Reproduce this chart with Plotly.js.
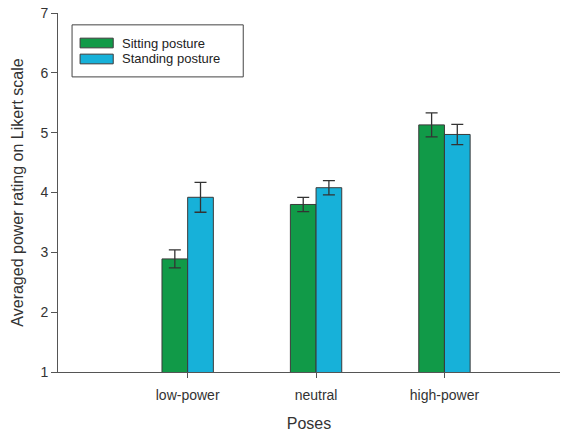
<!DOCTYPE html>
<html><head><meta charset="utf-8">
<script src="https://cdn.plot.ly/plotly-3.0.1.min.js"></script>
<style>html,body{margin:0;padding:0;background:#fff}#chart{width:568px;height:435px}</style>
</head><body><div id="chart"></div>
<script>
const poses = ["low-power", "neutral", "high-power"];
const seriesNames = ["Sitting posture", "Standing posture"];
const sitting = [2.89, 3.80, 5.13];
const sittingErr = [0.15, 0.12, 0.20];
const standing = [3.92, 4.08, 4.97];
const standingErr = [0.25, 0.12, 0.17];
const yTicks = [1, 2, 3, 4, 5, 6, 7];

const colors = ["#119a48", "#17b1d9"];
const font = "Liberation Sans, Arial, sans-serif";

const mk = (name, y, e, c) => ({
  type: "bar", name: name, x: poses, y: y, base: 0,
  marker: {color: c, line: {color: "#3a3a3a", width: 1}},
  error_y: {type: "data", array: e, visible: true, color: "#333", thickness: 1.3, width: 6},
  hoverinfo: "none"
});

const data = [mk(seriesNames[0], sitting, sittingErr, colors[0]),
              mk(seriesNames[1], standing, standingErr, colors[1])];

const shapes = [
  {type: "rect", xref: "paper", yref: "paper", x0: 0.028, x1: 0.369, y0: 0.822, y1: 0.967,
   line: {color: "#444", width: 1}, fillcolor: "rgba(0,0,0,0)"}
];
const annotations = [];
seriesNames.forEach((n, i) => {
  const yc = 0.9164 - i * 0.0445;
  shapes.push({type: "rect", xref: "paper", yref: "paper", x0: 0.044, x1: 0.110,
    y0: yc - 0.0135, y1: yc + 0.0135, fillcolor: colors[i], line: {color: "#3a3a3a", width: 1}});
  annotations.push({xref: "paper", yref: "paper", x: 0.125, y: yc, xanchor: "left", yanchor: "middle",
    text: n, showarrow: false, borderpad: 0, font: {family: font, size: 13, color: "#222"}});
});

const layout = {
  width: 568, height: 435,
  margin: {l: 58, r: 8, t: 13, b: 63},
  paper_bgcolor: "#fff", plot_bgcolor: "#fff",
  showlegend: false,
  barmode: "group", bargap: 0.6, bargroupgap: 0,
  font: {family: font, color: "#333"},
  xaxis: {
    range: [-1.01, 2.9], showline: true, linecolor: "#555", linewidth: 1,
    ticks: "outside", ticklen: 5, tickcolor: "#555", showgrid: false, zeroline: false,
    ticklabelstandoff: 5,
    tickfont: {family: font, size: 14, color: "#333"},
    title: {text: "Poses", font: {family: font, size: 16, color: "#333"}, standoff: 16}
  },
  yaxis: {
    range: [1, 7], tickvals: yTicks, showline: true, linecolor: "#555", linewidth: 1,
    ticks: "outside", ticklen: 6, tickcolor: "#555", showgrid: false, zeroline: false,
    tickfont: {family: font, size: 14, color: "#333"},
    title: {text: "Averaged power rating on Likert scale", font: {family: font, size: 16, color: "#333"}, standoff: 12}
  },
  shapes: shapes, annotations: annotations
};
Plotly.newPlot("chart", data, layout, {staticPlot: true});
</script></body></html>
